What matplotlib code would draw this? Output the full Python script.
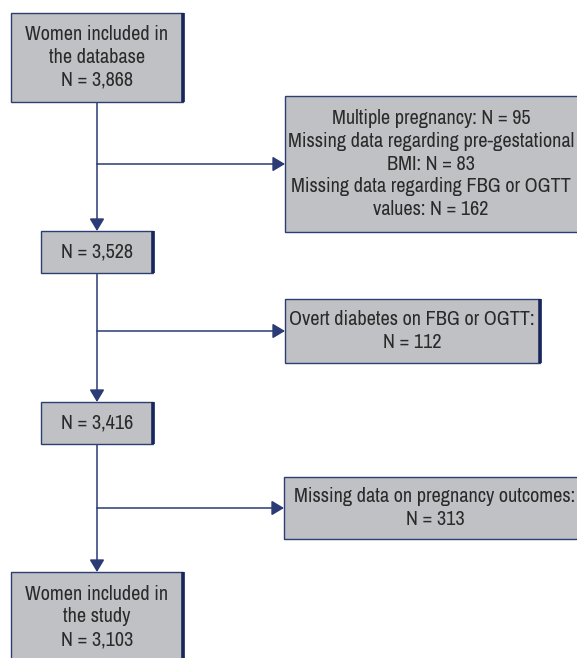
import matplotlib
matplotlib.use("Agg")
import matplotlib.pyplot as plt
from matplotlib import font_manager
from matplotlib.patches import Rectangle

# Textos del diagrama
main_texts = [
    "Women included in\nthe database\nN = 3,868",
    "N = 3,528",
    "N = 3,416",
    "Women included in\nthe study\nN = 3,103",
]
excl_texts = [
    "Multiple pregnancy: N = 95\nMissing data regarding pre-gestational\nBMI: N = 83\nMissing data regarding FBG or OGTT\nvalues: N = 162",
    "Overt diabetes on FBG or OGTT:\nN = 112",
    "Missing data on pregnancy outcomes:\nN = 313",
]

# Posiciones de cajas en píxeles (x0, y0, x1, y1)
main_boxes = [(11, 13, 183, 102), (41, 231, 153, 273), (41, 402, 153, 444), (11, 572, 183, 680)]
excl_boxes = [(285, 96, 592, 232), (285, 299, 540, 363), (284, 477, 592, 539)]
branch_y = [164, 331, 508]
main_x = 97

FILL = "#c0c1c5"
EDGE = "#2d3e72"
SHADOW = "#17265c"
LINE = "#2a3b75"
TXT = "#2a2a2a"

# Fuente estrecha si existe, si no Liberation Sans
names = {f.name for f in font_manager.fontManager.ttflist}
narrow = [n for n in names if "Narrow" in n or "Condensed" in n]
if narrow:
    FONT = [sorted(narrow)[0], "DejaVu Sans"]
    FSIZE, LSP = 14.6, 1.26
else:
    FONT = ["Liberation Sans", "DejaVu Sans"]
    FSIZE, LSP = 12.0, 1.42


def draw_box(ax, box, text, text_x=None, text_y=None):
    x0, y0, x1, y1 = box
    ax.add_patch(Rectangle((x0, y0), x1 - x0, y1 - y0, facecolor=FILL,
                           edgecolor=EDGE, linewidth=1.0, zorder=2))
    ax.plot([x1, x1], [y0, y1], color=SHADOW, linewidth=2.6,
            solid_capstyle="butt", zorder=3)
    cx = (x0 + x1) / 2 if text_x is None else text_x
    cy = (y0 + y1) / 2 if text_y is None else text_y
    ax.text(cx, cy, text, ha="center", va="center",
            fontsize=FSIZE, color=TXT, family=FONT, linespacing=LSP, zorder=4)


def arrow(ax, start, end):
    ax.annotate("", xy=end, xytext=start,
                arrowprops=dict(arrowstyle="-|>,head_length=0.75,head_width=0.45",
                                mutation_scale=10, color=LINE, linewidth=1.1,
                                shrinkA=0, shrinkB=0), zorder=1)


fig = plt.figure(figsize=(5.77, 6.58), dpi=100)
ax = fig.add_axes([0, 0, 1, 1])
ax.set_xlim(0, 577)
ax.set_ylim(658, 0)
ax.axis("off")

# Línea principal con flechas hacia abajo
for i in range(len(main_boxes) - 1):
    arrow(ax, (main_x, main_boxes[i][3]), (main_x, main_boxes[i + 1][1]))

# Ramas de exclusión
for y, box in zip(branch_y, excl_boxes):
    arrow(ax, (main_x, y), (box[0], y))

for i, (box, t) in enumerate(zip(main_boxes, main_texts)):
    draw_box(ax, box, t, text_x=97, text_y=617 if i == 3 else None)

excl_centers = [(431, 164), (412, 331), (435, 508)]
for box, t, (cx, cy) in zip(excl_boxes, excl_texts, excl_centers):
    draw_box(ax, box, t, text_x=cx, text_y=cy)

fig.savefig("out.png", dpi=100)
